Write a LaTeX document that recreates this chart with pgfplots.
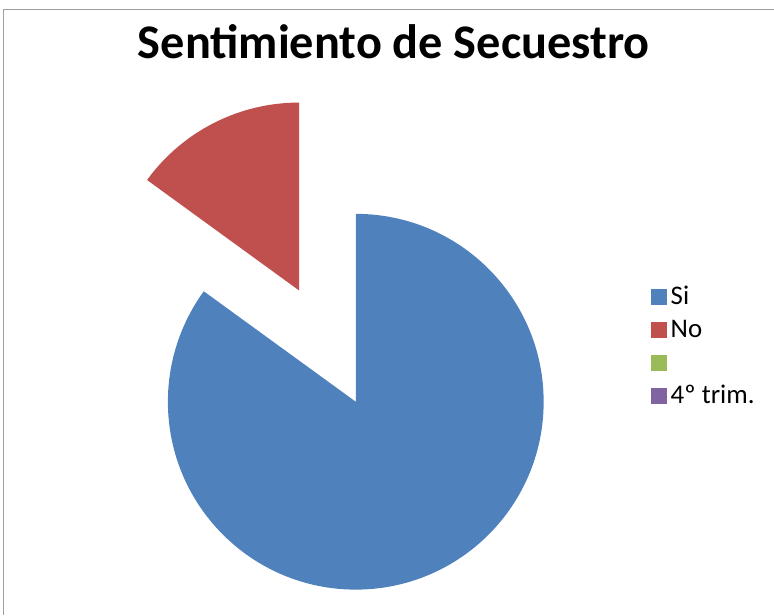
\documentclass[border=0pt]{standalone}
\usepackage{fontspec}
\setmainfont{Carlito}
\usepackage{pgfplots}
\usepackage{pgfplotstable}
\pgfplotsset{compat=1.18}
\usetikzlibrary{calc}

\definecolor{siblue}{HTML}{4F81BD}
\definecolor{nored}{HTML}{C0504D}
\definecolor{q3green}{HTML}{9BBB59}
\definecolor{q4purple}{HTML}{8064A2}

% share of answers (percent)
\pgfplotstableread{
cat share
Si  85
No  15
}\sentimiento

\begin{document}
\begin{tikzpicture}
\pgfplotstablegetelem{0}{share}\of\sentimiento \edef\shareSi{\pgfplotsretval}
\pgfplotstablegetelem{1}{share}\of\sentimiento \edef\shareNo{\pgfplotsretval}
% slices run clockwise from twelve o'clock
\pgfmathsetmacro\endSi{90-3.6*\shareSi}
\pgfmathsetmacro\endNo{\endSi-3.6*\shareNo}
\pgfmathsetmacro\midNo{(\endSi+\endNo)/2}
\def\pieR{188bp}
\begin{axis}[
  scale only axis, width=774bp, height=615bp,
  xmin=0, xmax=774, ymin=0, ymax=615,
  hide axis, clip=false,
  legend image code/.code={\fill[#1,draw=none] (0bp,-8bp) rectangle (16bp,8bp);},
  legend style={draw=none, fill=none, at={(axis cs:651,334.5)}, anchor=north west,
    font=\fontsize{27}{32}\selectfont, cells={anchor=west},
    row sep=0pt, column sep=3bp, inner sep=0pt, outer sep=0pt,
    nodes={inner sep=1.15bp, outer sep=0pt, text height=23.3bp, text depth=7.4bp}},
]
% keep the whole chart area in the picture
\path (axis cs:0,0) rectangle (axis cs:774,615);
% chart frame
\draw[gray!75, line width=1bp] (axis cs:4,0) -- (axis cs:4,605) -- (axis cs:774,605);
% title
\node[anchor=base, font=\fontsize{48.5}{58}\selectfont\bfseries] at (axis cs:394,556) {Sentimiento de Secuestro};
% Si slice
\fill[siblue] (axis cs:356,213) -- ++(90:\pieR) arc[start angle=90, end angle=\endSi, radius=\pieR] -- cycle;
% No slice, pulled out along its bisector
\fill[nored] ($(axis cs:356,213)+(\midNo:125bp)$) -- ++(\endSi:\pieR) arc[start angle=\endSi, end angle=\endNo, radius=\pieR] -- cycle;

\addlegendimage{fill=siblue}\addlegendentry{Si}
\addlegendimage{fill=nored}\addlegendentry{No}
\addlegendimage{fill=q3green}\addlegendentry{}
\addlegendimage{fill=q4purple}\addlegendentry{4º trim.}
\end{axis}
\end{tikzpicture}
\end{document}
